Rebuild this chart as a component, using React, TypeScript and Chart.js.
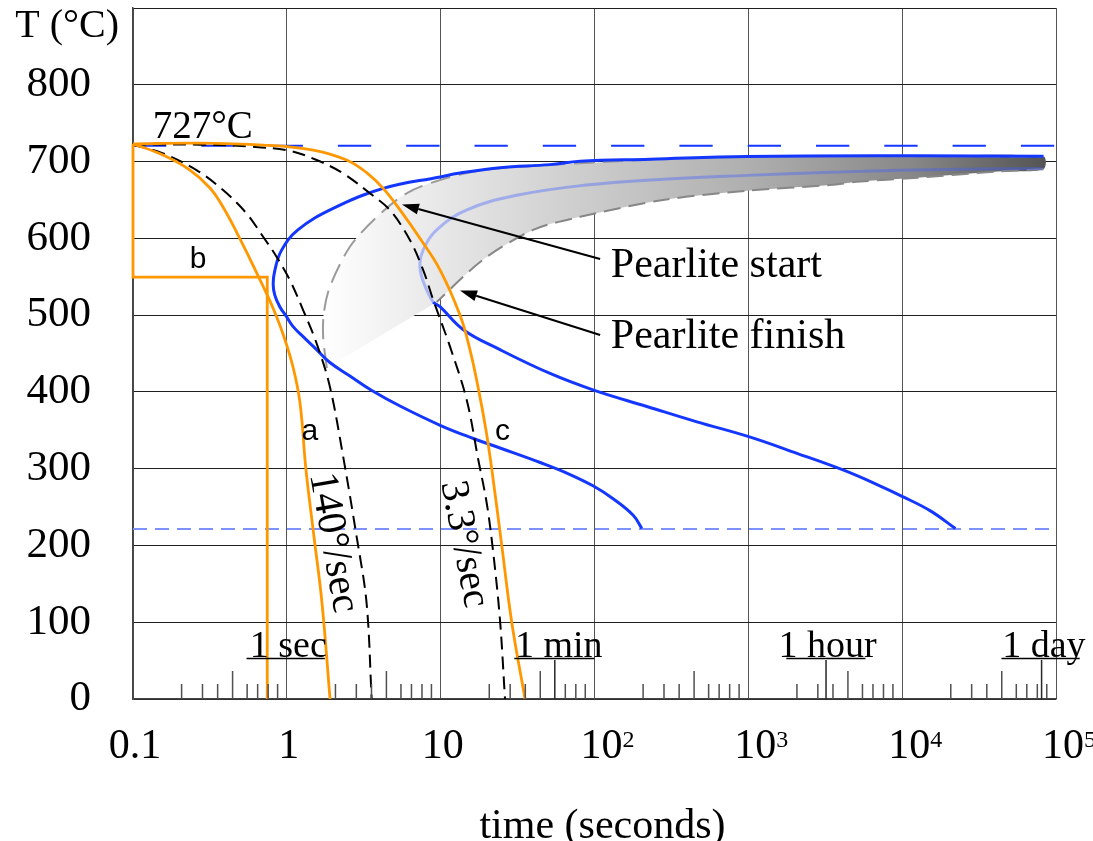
import React, { useEffect, useRef } from 'react';
import { Chart, registerables } from 'chart.js';

Chart.register(...registerables);

const SERIF = '"Liberation Serif", "Times New Roman", Times, serif';
const SANS = '"Liberation Sans", Arial, Helvetica, sans-serif';

// ---- axes ----
const xTickValues = [0.1, 1, 10, 100, 1000, 10000, 100000];
const xTickBase = ['0.1', '1', '10', '10', '10', '10', '10'];
const xTickExp = ['', '', '', '2', '3', '4', '5'];
const yTickValues = [0, 100, 200, 300, 400, 500, 600, 700, 800, 900];
const yTickLabels = ['0', '100', '200', '300', '400', '500', '600', '700', '800', ''];
const xTitle = 'time (seconds)';
const yTitle = 'T (°C)';

// ---- Pearlite start C-curve (right end -> nose -> lower end) ----
const startTime = [82900, 11830, 979, 230, 80.6, 51.4, 24.3, 13.35, 9.9, 4.23, 2.0, 1.18, 0.921, 0.835, 0.815, 0.835, 0.9, 0.995, 1.099, 1.276, 1.561, 1.905, 2.57, 3.57, 5.44, 10.0, 16.3, 24.3, 44.3, 66.0, 98.4, 132.8, 179, 203];
const startTemp = [707, 707.5, 706.5, 703, 700.5, 696, 692, 685, 680, 665, 639, 611, 584, 558, 541, 526, 511, 498, 485, 472, 455, 438.3, 420.7, 401.8, 381.6, 356.2, 339.3, 326.9, 308, 294.3, 277.4, 260.5, 239, 222];

// ---- Pearlite finish C-curve ----
const finishTime = [81300, 11880, 3410, 980, 281, 84.7, 31.2, 14.8, 9.42, 7.7, 7.33, 7.52, 8.11, 8.95, 9.9, 14.03, 24.3, 51.4, 99.8, 219, 463, 994, 2071, 4164, 7215, 9986, 15260, 22190];
const finishTemp = [691, 689, 686, 682, 677, 669, 656, 637, 611, 585, 567, 550, 533, 517, 511, 481, 455, 424, 402, 381, 361, 342, 320, 298, 277.4, 264, 245, 222];
const finishDarkFrom = 13;

// ---- shaded transformation band ----
const bandTopTime = [1.82, 1.722, 1.74, 1.905, 2.57, 3.85, 6.04, 9.9, 18.8, 51.4, 230, 980, 11830, 82900];
const bandTopTemp = [431, 471, 503, 537, 589, 628, 659, 676, 689, 695.5, 702.5, 706, 707, 706.5];
const bandLowTime = [82900, 41640, 11830, 5346, 3410, 980, 279.5, 80.6, 39.9, 18.8, 9.42];
const bandLowTemp = [690, 687, 678.5, 674, 669.5, 662, 650, 628, 611, 572, 517];

// ---- cooling curves (black dashed) ----
const cool140Time = [0.1, 0.1567, 0.2585, 0.385, 0.5467, 0.701, 0.857, 1.046, 1.276, 1.561, 1.905, 2.324, 2.842, 3.3, 3.56];
const cool140Temp = [722, 710.7, 688.9, 662.9, 632.6, 602.1, 576, 545.7, 506.6, 463.3, 406.8, 315.6, 211.5, 124.7, 0];
const cool33Time = [0.1, 0.2716, 0.5744, 1.046, 1.561, 2.324, 3.467, 4.68, 6.31, 7.7, 8.95, 11.5, 14.77, 17.57, 19.93, 21.99, 24.3, 26.2];
const cool33Temp = [722, 722, 719.5, 714, 702, 684.6, 658.6, 636.8, 597.8, 558.7, 519.7, 458.9, 389.5, 311.3, 255, 189.8, 103, 0];

// ---- cooling paths a, b, c (orange) ----
const pathATime = [0.1, 0.1567, 0.2346, 0.3166, 0.3847, 0.4746, 0.5762, 0.6997, 0.813, 0.9443, 1.097, 1.218, 1.332, 1.502, 1.693, 1.909];
const pathATemp = [723, 708.5, 688.9, 665.6, 640.8, 606.9, 573, 537.9, 509.2, 475.4, 432.4, 385.5, 298.3, 211, 125, 0];
const pathBTime = [0.1, 0.1, 0.746, 0.746];
const pathBTemp = [723, 549.6, 549.6, 0];
const pathCTime = [0.1, 0.2585, 0.701, 1.483, 2.446, 3.3, 4.23, 5.44, 7.33, 9.9, 13.35, 15.5, 17.75, 19.71, 21.47, 24.95, 28.97, 35.35];
const pathCTemp = [723, 724, 721.5, 715, 702, 685.5, 665, 637, 600, 559, 500, 455, 400, 350, 300, 200, 100, 0];

// ---- reference temperatures ----
const refLineTime = [0.1, 100000];
const eutectoidTemp = [720.5, 720.5];
const msTemp = [221.5, 221.5];

// ---- time-scale ruler ticks along the bottom ----
const rulerShort = [0.207, 0.283, 0.355, 0.552, 0.646, 0.756, 0.871, 2.07, 2.83, 3.55, 5.52, 6.46, 7.56, 8.71, 20.7, 28.3, 35.5, 64.6, 75.6, 87.1, 207, 283, 355, 552, 646, 756, 871, 2070, 2830, 3550, 5520, 6460, 7560, 8710, 20700, 28300, 35500, 55200, 64600, 75600, 87100];
const rulerMid = [0.444, 4.44, 44.4, 444, 4440, 44400];
const rulerLong = [55.2, 3200, 80600];

// ---- time-unit labels ----
const unitLabels = ['1 sec', '1 min', '1 hour', '1 day'];
const unitLabelTime = [0.574, 30.4, 1572, 44670];
const unitLabelTemp = 55.2;
const unitLineFrom = [0.547, 30.1, 1765, 44200];
const unitLineTo = [1.767, 100, 5771, 142600];
const unitLineTemp = 52.9;

// ---- annotations ----
const noteTexts = ['727°C', 'a', 'b', 'c', 'Pearlite start', 'Pearlite finish', '140°/sec', '3.3°/sec'];
const noteTimes = [0.1343, 1.411, 0.2648, 25.24, 127.7, 127.7, 1.995, 14.12];
const noteTemps = [730.6, 337.4, 560.9, 337.4, 550, 456.8, 203.6, 201.6];
const noteStyles = [
  { font: `39px ${SERIF}`, align: 'left', baseline: 'alphabetic', rotate: 0 },
  { font: `30px ${SANS}`, align: 'center', baseline: 'alphabetic', rotate: 0 },
  { font: `30px ${SANS}`, align: 'center', baseline: 'alphabetic', rotate: 0 },
  { font: `30px ${SANS}`, align: 'center', baseline: 'alphabetic', rotate: 0 },
  { font: `42px ${SERIF}`, align: 'left', baseline: 'alphabetic', rotate: 0 },
  { font: `42px ${SERIF}`, align: 'left', baseline: 'alphabetic', rotate: 0 },
  { font: `41px ${SERIF}`, align: 'center', baseline: 'middle', rotate: 80 },
  { font: `40px ${SERIF}`, align: 'center', baseline: 'middle', rotate: 79 },
];

// ---- arrows (Pearlite start / finish) ----
const arrowFromTime = [108.8, 108.8];
const arrowFromTemp = [573, 474.1];
const arrowToTime = [5.6, 13.35];
const arrowToTemp = [644, 532];

const BLUE = 'rgb(20,55,255)';
const LIGHT_BLUE = 'rgba(60,95,255,0.38)';
const MS_BLUE = 'rgb(125,145,255)';
const ORANGE = 'rgb(255,152,0)';

const zip = (ts: number[], vs: number[]) => ts.map((t, i) => ({ x: t, y: vs[i] }));
const ruler = (vals: number[], h: number) =>
  vals.flatMap((v) => [{ x: v, y: 0 }, { x: v, y: h }, { x: v, y: null as any }]);

function ds(label: string, data: any[], opts: any) {
  return {
    label,
    data,
    pointRadius: 0,
    pointHoverRadius: 0,
    fill: false,
    clip: false,
    tension: 0,
    spanGaps: false,
    borderCapStyle: 'butt',
    ...opts,
  };
}

const bandGradient = (c: any) => {
  const chart = c.chart;
  if (!chart.chartArea || !chart.scales.x) return 'rgba(180,180,180,0.6)';
  const xs = chart.scales.x;
  const all = [...bandTopTime, ...bandLowTime];
  const x0 = xs.getPixelForValue(Math.min(...all));
  const x1 = xs.getPixelForValue(Math.max(...all));
  const g = chart.ctx.createLinearGradient(x0, 0, x1, 0);
  g.addColorStop(0, '#ffffff');
  g.addColorStop(0.16, '#e8e8e8');
  g.addColorStop(0.36, '#cdcdcd');
  g.addColorStop(0.59, '#afafaf');
  g.addColorStop(0.82, '#878787');
  g.addColorStop(1, '#555555');
  return g;
};

const overlay = {
  id: 'overlay',
  afterDatasetsDraw(chart: any) {
    const { ctx, chartArea: a, scales } = chart;
    const X = (t: number) => scales.x.getPixelForValue(t);
    const Y = (v: number) => scales.y.getPixelForValue(v);
    ctx.save();
    ctx.fillStyle = '#000';
    ctx.strokeStyle = '#000';

    noteTexts.forEach((txt, i) => {
      const st = noteStyles[i];
      ctx.save();
      ctx.font = st.font;
      ctx.textAlign = st.align;
      ctx.textBaseline = st.baseline;
      ctx.translate(X(noteTimes[i]), Y(noteTemps[i]));
      if (st.rotate) ctx.rotate((st.rotate * Math.PI) / 180);
      ctx.fillText(txt, 0, 0);
      ctx.restore();
    });

    ctx.font = `38px ${SERIF}`;
    ctx.textAlign = 'left';
    ctx.textBaseline = 'alphabetic';
    unitLabels.forEach((txt, i) => {
      ctx.fillText(txt, X(unitLabelTime[i]), Y(unitLabelTemp));
      ctx.beginPath();
      ctx.lineWidth = 1.5;
      ctx.moveTo(X(unitLineFrom[i]), Y(unitLineTemp));
      ctx.lineTo(X(unitLineTo[i]), Y(unitLineTemp));
      ctx.stroke();
    });

    arrowFromTime.forEach((_, i) => {
      const x0 = X(arrowFromTime[i]);
      const y0 = Y(arrowFromTemp[i]);
      const x1 = X(arrowToTime[i]);
      const y1 = Y(arrowToTemp[i]);
      const ang = Math.atan2(y1 - y0, x1 - x0);
      const L = 17;
      const W = 5.5;
      const bx = x1 - L * Math.cos(ang);
      const by = y1 - L * Math.sin(ang);
      ctx.lineWidth = 2;
      ctx.beginPath();
      ctx.moveTo(x0, y0);
      ctx.lineTo(bx, by);
      ctx.stroke();
      ctx.beginPath();
      ctx.moveTo(x1, y1);
      ctx.lineTo(bx + W * Math.sin(ang), by - W * Math.cos(ang));
      ctx.lineTo(bx - W * Math.sin(ang), by + W * Math.cos(ang));
      ctx.closePath();
      ctx.fill();
    });

    // x tick labels with superscript exponents
    const base = a.bottom + 59;
    xTickValues.forEach((v, i) => {
      const px = X(v);
      ctx.font = `42px ${SERIF}`;
      if (xTickExp[i]) {
        const w = ctx.measureText(xTickBase[i]).width;
        const left = px + 7 - w / 2;
        ctx.textAlign = 'left';
        ctx.fillText(xTickBase[i], left, base);
        ctx.font = `24px ${SERIF}`;
        ctx.fillText(xTickExp[i], left + w, base - 11.5);
      } else {
        ctx.textAlign = 'center';
        ctx.fillText(xTickBase[i], px + 2, base);
      }
    });

    // axis titles
    ctx.font = `42px ${SERIF}`;
    ctx.textAlign = 'center';
    ctx.fillText(xTitle, (a.left + a.right) / 2 + 8, a.bottom + 139);
    ctx.font = `40px ${SERIF}`;
    ctx.textAlign = 'right';
    ctx.fillText(yTitle, a.left - 14, a.top + 29);
    ctx.restore();
  },
};

export default function App() {
  const ref = useRef<HTMLCanvasElement>(null);
  useEffect(() => {
    const canvas = ref.current;
    if (!canvas) return;
    const datasets: any[] = [
      ds('band', [...zip(bandTopTime, bandTopTemp), ...zip(bandLowTime, bandLowTemp)], {
        fill: 'shape', borderWidth: 0, borderColor: 'rgba(0,0,0,0)', backgroundColor: bandGradient, tension: 0.3, order: 20,
      }),
      ds('band top edge', zip(bandTopTime, bandTopTemp), { borderColor: 'rgb(155,155,155)', borderWidth: 2, borderDash: [20, 9], tension: 0.3, order: 19 }),
      ds('band low edge', zip(bandLowTime, bandLowTemp), { borderColor: 'rgb(135,135,135)', borderWidth: 2, borderDash: [17, 8], tension: 0.3, order: 19 }),
      ds('Ms', zip(refLineTime, msTemp), { borderColor: MS_BLUE, borderWidth: 2, borderDash: [14, 8], order: 18 }),
      ds('727', zip(refLineTime, eutectoidTemp), { borderColor: BLUE, borderWidth: 2, borderDash: [33.3, 35], order: 18 }),
      ds('Pearlite finish', zip(finishTime, finishTemp), {
        borderColor: BLUE, borderWidth: 3, tension: 0.4, order: 16,
        segment: { borderColor: (c: any) => (c.p0DataIndex >= finishDarkFrom ? BLUE : LIGHT_BLUE) },
      }),
      ds('Pearlite start', zip(startTime, startTemp), { borderColor: BLUE, borderWidth: 3, tension: 0.4, order: 15 }),
      ds('140°/sec', zip(cool140Time, cool140Temp), { borderColor: '#000', borderWidth: 2, borderDash: [13, 7], tension: 0.35, order: 14 }),
      ds('3.3°/sec', zip(cool33Time, cool33Temp), { borderColor: '#000', borderWidth: 2, borderDash: [13, 7], tension: 0.35, order: 14 }),
      ds('a', zip(pathATime, pathATemp), { borderColor: ORANGE, borderWidth: 2.8, tension: 0.4, order: 12 }),
      ds('b', zip(pathBTime, pathBTemp), { borderColor: ORANGE, borderWidth: 2.8, tension: 0, order: 12, borderJoinStyle: 'miter' }),
      ds('c', zip(pathCTime, pathCTemp), { borderColor: ORANGE, borderWidth: 2.8, tension: 0.4, order: 12 }),
      ds('ruler short', ruler(rulerShort, 19.5), { borderColor: 'rgb(80,80,80)', borderWidth: 1.5, order: 10 }),
      ds('ruler mid', ruler(rulerMid, 36.5), { borderColor: 'rgb(80,80,80)', borderWidth: 1.5, order: 10 }),
      ds('ruler long', ruler(rulerLong, 50.8), { borderColor: 'rgb(40,40,40)', borderWidth: 1.5, order: 10 }),
    ];

    const chart = new Chart(canvas, {
      type: 'line',
      data: { datasets },
      options: {
        responsive: false,
        animation: false,
        events: [],
        layout: { padding: { left: 0, right: 37, top: 8, bottom: 0 } },
        plugins: { legend: { display: false }, tooltip: { enabled: false } },
        scales: {
          x: {
            type: 'logarithmic',
            min: 0.1,
            max: 100000,
            afterBuildTicks: (s: any) => { s.ticks = xTickValues.map((v) => ({ value: v })); },
            afterFit: (s: any) => { s.height = 142; s.paddingLeft = 0; s.paddingRight = 0; },
            ticks: { display: false, autoSkip: false },
            grid: { color: 'rgb(85,85,85)', lineWidth: 1, drawTicks: false },
            border: { display: true, color: '#444', width: 1.5 },
          },
          y: {
            type: 'linear',
            min: 0,
            max: 900,
            afterBuildTicks: (s: any) => { s.ticks = yTickValues.map((v) => ({ value: v })); },
            afterFit: (s: any) => { s.width = 133; s.paddingTop = 0; s.paddingBottom = 0; },
            ticks: {
              autoSkip: false,
              padding: 42,
              color: '#000',
              font: { family: SERIF, size: 43 },
              callback: (_v: any, i: number) => yTickLabels[i],
            },
            grid: { color: 'rgb(30,30,30)', lineWidth: 1, drawTicks: false },
            border: { display: true, color: '#444', width: 1.5 },
          },
        },
      } as any,
      plugins: [overlay],
    });
    return () => chart.destroy();
  }, []);

  return (
    <div style={{ position: 'absolute', left: 0, top: 0, width: 1093, height: 841, background: '#fff' }}>
      <canvas ref={ref} width={1093} height={841} style={{ display: 'block', width: 1093, height: 841 }} />
    </div>
  );
}
